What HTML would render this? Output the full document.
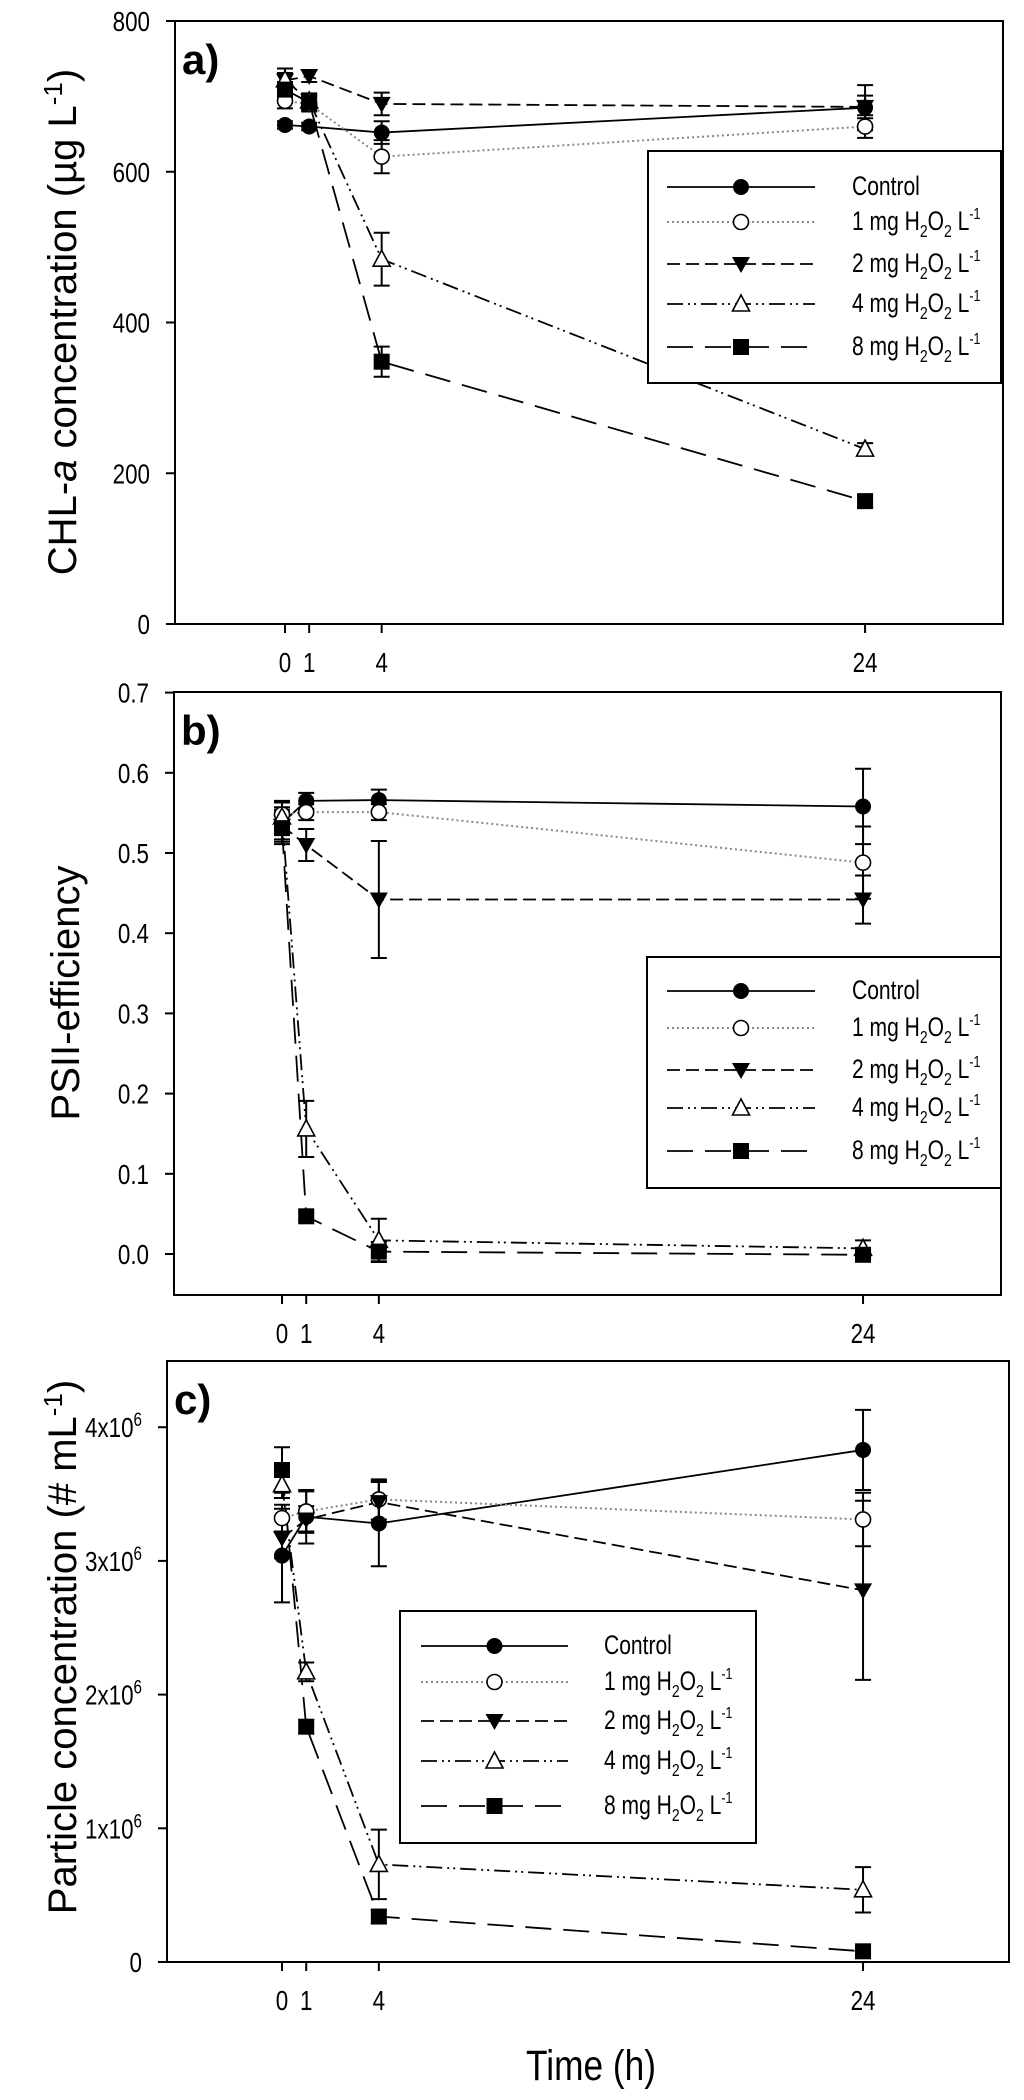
<!DOCTYPE html>
<html><head><meta charset="utf-8">
<style>
html,body{margin:0;padding:0;background:#fff;}
svg{display:block;font-family:"Liberation Sans",Arial,sans-serif;}
</style></head>
<body>
<svg id="fig" width="1024" height="2100" viewBox="0 0 1024 2100" xmlns="http://www.w3.org/2000/svg"></svg>
<script>
// ---- shared data ----
const times = [0, 1, 4, 24];
const xTickLabels = ["0", "1", "4", "24"];
const seriesNames = ["Control", "1 mg", "2 mg", "4 mg", "8 mg"];

// Panel a: CHL-a (ug/L)
const aControl = [662, 660, 652, 685];
const a1mg = [694, 690, 620, 660];
const a2mg = [721, 727, 690, 686];
const a4mg = [722, 694, 484, 232];
const a8mg = [709, 692, 348, 163];
const aErrControl = [5, 5, 15, 30];
const aErr1mg = [10, 10, 22, 15];
const aErr2mg = [10, 8, 15, 15];
const aErr4mg = [15, 10, 35, 8];
const aErr8mg = [10, 10, 20, 8];
const aTicks = [0, 200, 400, 600, 800];

// Panel b: PSII efficiency
const bControl = [0.537, 0.565, 0.566, 0.558];
const b1mg = [0.548, 0.551, 0.551, 0.488];
const b2mg = [0.534, 0.510, 0.442, 0.442];
const b4mg = [0.545, 0.156, 0.017, 0.007];
const b8mg = [0.531, 0.047, 0.003, -0.001];
const bErrControl = [0.02, 0.01, 0.013, 0.047];
const bErr1mg = [0.015, 0.01, 0.01, 0.045];
const bErr2mg = [0.02, 0.02, 0.073, 0.03];
const bErr4mg = [0.02, 0.035, 0.027, 0.01];
const bErr8mg = [0.02, 0.005, 0.012, 0.005];
const bTicks = [0.0, 0.1, 0.2, 0.3, 0.4, 0.5, 0.6, 0.7];

// Panel c: particle concentration (x10^6 per mL)
const cControl = [3.04, 3.33, 3.28, 3.83];
const c1mg = [3.32, 3.37, 3.46, 3.31];
const c2mg = [3.17, 3.31, 3.44, 2.78];
const c4mg = [3.57, 2.17, 0.73, 0.54];
const c8mg = [3.68, 1.76, 0.34, 0.08];
const cErrControl = [0.35, 0.2, 0.32, 0.3];
const cErr1mg = [0.1, 0.15, 0.15, 0.2];
const cErr2mg = [0.15, 0.1, 0.15, 0.67];
const cErr4mg = [0.1, 0.07, 0.26, 0.17];
const cErr8mg = [0.17, 0.05, 0.05, 0.03];
const cTicks = [0, 1, 2, 3, 4];

const NS = "http://www.w3.org/2000/svg";
const svg = document.getElementById("fig");
function el(tag, attrs, parent) {
  const e = document.createElementNS(NS, tag);
  for (const k in attrs) e.setAttribute(k, attrs[k]);
  (parent || svg).appendChild(e);
  return e;
}
function narrowText(parent, x, y, size, anchor, sx) {
  const t = el("text", {transform: `translate(${x},${y}) scale(${sx},1)`, x: 0, y: 0, "font-size": size, "text-anchor": anchor, fill: "#000"}, parent);
  return t;
}
function tspan(t, str, dy, size) {
  const s = el("tspan", {}, t);
  if (dy) s.setAttribute("dy", dy);
  if (size) s.setAttribute("font-size", size);
  s.textContent = str;
  return s;
}
const styles = [
  {dash: "", color: "#000", marker: "circleFilled"},
  {dash: "2,3", color: "#888", marker: "circleOpen"},
  {dash: "13,6", color: "#000", marker: "triDown"},
  {dash: "16,5,2,4,2,5", color: "#000", marker: "triOpen"},
  {dash: "26,12", color: "#000", marker: "square"}
];
function marker(g, type, x, y) {
  let m;
  if (type === "circleFilled") m = el("circle", {cx: x, cy: y, r: 8, fill: "#000"}, g);
  else if (type === "circleOpen") m = el("circle", {cx: x, cy: y, r: 7.5, fill: "#fff", stroke: "#000", "stroke-width": 1.6}, g);
  else if (type === "triDown") m = el("polygon", {points: `${x-9},${y-7} ${x+9},${y-7} ${x},${y+9}`, fill: "#000"}, g);
  else if (type === "triOpen") m = el("polygon", {points: `${x-8.5},${y+7} ${x+8.5},${y+7} ${x},${y-9}`, fill: "#fff", stroke: "#000", "stroke-width": 1.6}, g);
  else m = el("rect", {x: x-8, y: y-8, width: 16, height: 16, fill: "#000"}, g);
  
  
  return m;
}
function legendLabel(parent, x, y, i) {
  const t = narrowText(parent, x, y, 27, "start", 0.78);
  if (i === 0) { t.textContent = "Control"; return t; }
  tspan(t, seriesNames[i] + " H");
  tspan(t, "2", 7, 18);
  tspan(t, "O", -7);
  tspan(t, "2", 7, 18);
  tspan(t, " L", -7);
  tspan(t, "-1", -11, 16);
  return t;
}

function panel(p) {
  const g = el("g", {});
  
  
  const xs = t => p.x0 + t * p.xPer;
  const ys = v => p.yZero - v * p.yPer;
  const fr = el("rect", {x: p.fx1, y: p.fy1, width: p.fx2 - p.fx1, height: p.fy2 - p.fy1, fill: "none", stroke: "#000", "stroke-width": 2}, g);
  
  
  times.forEach((t, i) => {
    const tk = el("line", {x1: xs(t), x2: xs(t), y1: p.fy2, y2: p.fy2 + 9, stroke: "#000", "stroke-width": 2}, g);
    
    
    const lb = narrowText(g, xs(t), p.fy2 + 48, 28, "middle", 0.8);
    lb.textContent = xTickLabels[i];
    
    
  });
  p.ticks.forEach(v => {
    const y = ys(v);
    const tk = el("line", {x1: p.fx1 - 9, x2: p.fx1, y1: y, y2: y, stroke: "#000", "stroke-width": 2}, g);
    
    
    const lb = narrowText(g, p.fx1 - 25, y + 10, 28, "end", 0.8);
    p.fmt(lb, v);
    
    
  });
  p.series.forEach((s, i) => {
    const pts = times.map((t, j) => xs(t) + "," + ys(s[j])).join(" ");
    const pl = el("polyline", {points: pts, fill: "none", stroke: styles[i].color, "stroke-width": i === 1 ? 2 : 1.8, "stroke-dasharray": styles[i].dash}, g);
    
    
  });
  p.series.forEach((s, i) => {
    times.forEach((t, j) => {
      const x = xs(t), e = p.errs[i][j];
      const y1 = ys(s[j] + e), y2 = ys(s[j] - e);
      const eb = el("path", {d: `M${x},${y1}V${y2}M${x-8},${y1}H${x+8}M${x-8},${y2}H${x+8}`, stroke: "#000", "stroke-width": 2, fill: "none"}, g);
      
      
    });
  });
  p.series.forEach((s, i) => {
    times.forEach((t, j) => marker(g, styles[i].marker, xs(t), ys(s[j])));
  });
  const pl = el("text", {x: p.fx1 + 7, y: p.labelY, "font-size": 42, "font-weight": "bold", fill: "#000"}, g);
  pl.textContent = p.label;
  
  
  const yt = el("text", {transform: `translate(${p.titleX},${p.titleY}) rotate(-90)`, "font-size": 40, "text-anchor": "middle", fill: "#000"}, g);
  p.title(yt);
  
  
  const L = p.legend;
  const lg = el("g", {}, g);
  
  
  el("rect", {x: L.x1, y: L.y1, width: L.x2 - L.x1, height: L.y2 - L.y1, fill: "#fff", stroke: "#000", "stroke-width": 2}, lg);
  L.rows.forEach((ry, i) => {
    const en = el("g", {}, lg);
    
    
    el("line", {x1: L.lx1, x2: L.lx2, y1: ry, y2: ry, stroke: styles[i].color, "stroke-width": i === 1 ? 2 : 1.8, "stroke-dasharray": styles[i].dash}, en);
    marker(en, styles[i].marker, (L.lx1 + L.lx2) / 2, ry);
    legendLabel(en, L.tx, ry + 8, i);
  });
}

panel({
  name: "panel-a-chlorophyll", label: "a)", labelY: 74,
  x0: 285, xPer: 24.17, yZero: 624, yPer: 603 / 800,
  fx1: 175, fx2: 1003, fy1: 21, fy2: 624,
  ticks: aTicks, fmt: (t, v) => { t.textContent = String(v); },
  series: [aControl, a1mg, a2mg, a4mg, a8mg],
  errs: [aErrControl, aErr1mg, aErr2mg, aErr4mg, aErr8mg],
  titleX: 76, titleY: 322,
  title: t => { tspan(t, "CHL-"); const a = tspan(t, "a"); a.setAttribute("font-style", "italic"); tspan(t, " concentration (\u00B5g L"); tspan(t, "-1", -14, 26); tspan(t, ")", 14); },
  legend: {x1: 648, x2: 1001, y1: 151, y2: 383, lx1: 667, lx2: 815, tx: 852, rows: [187, 222, 264, 304, 347]}
});
panel({
  name: "panel-b-psii", label: "b)", labelY: 745,
  x0: 282, xPer: 24.21, yZero: 1254, yPer: 802,
  fx1: 174, fx2: 1001, fy1: 692, fy2: 1295,
  ticks: bTicks, fmt: (t, v) => { t.textContent = v.toFixed(1); },
  series: [bControl, b1mg, b2mg, b4mg, b8mg],
  errs: [bErrControl, bErr1mg, bErr2mg, bErr4mg, bErr8mg],
  titleX: 79, titleY: 993,
  title: t => { t.textContent = "PSII-efficiency"; },
  legend: {x1: 647, x2: 1001, y1: 957, y2: 1188, lx1: 667, lx2: 815, tx: 852, rows: [991, 1028, 1070, 1108, 1151]}
});
panel({
  name: "panel-c-particles", label: "c)", labelY: 1414,
  x0: 282, xPer: 24.21, yZero: 1962, yPer: 133.7,
  fx1: 167, fx2: 1009, fy1: 1361, fy2: 1962,
  ticks: cTicks, fmt: (t, v) => { if (v === 0) { t.textContent = "0"; return; } tspan(t, v + "x10"); tspan(t, "6", -11, 19); },
  series: [cControl, c1mg, c2mg, c4mg, c8mg],
  errs: [cErrControl, cErr1mg, cErr2mg, cErr4mg, cErr8mg],
  titleX: 76, titleY: 1647,
  title: t => { tspan(t, "Particle concentration (# mL"); tspan(t, "-1", -14, 26); tspan(t, ")", 14); },
  legend: {x1: 400, x2: 756, y1: 1611, y2: 1843, lx1: 421, lx2: 568, tx: 604, rows: [1646, 1682, 1721, 1761, 1806]}
});

const xt = narrowText(svg, 591, 2080, 43, "middle", 0.82);
xt.textContent = "Time (h)";


</script>
</body></html>
